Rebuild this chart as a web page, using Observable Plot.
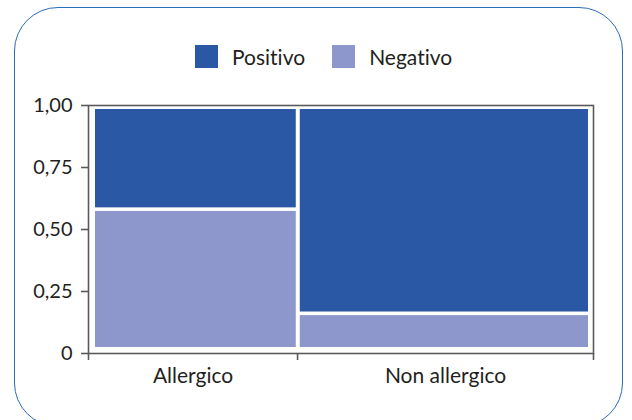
<!DOCTYPE html>
<html>
<head>
<meta charset="utf-8">
<script src="https://cdn.jsdelivr.net/npm/d3@7"></script>
<script src="https://cdn.jsdelivr.net/npm/@observablehq/plot@0.6"></script>
<style>
  html, body { margin: 0; padding: 0; background: #fff; }
  #wrap { position: relative; width: 632px; height: 420px; overflow: hidden; font-family: Lato, sans-serif; color: #231f20; font-variant-ligatures: none; font-feature-settings: "liga" 0, "clig" 0; }
  #wrap svg text { font-variant-ligatures: none; font-feature-settings: "liga" 0, "clig" 0; }
  #border { position: absolute; left: 14px; top: 7px; width: 609px; height: 420px; border: 1.5px solid #2a6cb8; border-radius: 44px; box-sizing: border-box; }
  #legend { position: absolute; left: 195px; top: 45px; display: flex; align-items: center; font-size: 21px; line-height: 23px; }
  .item { display: flex; align-items: center; }
  .sw { width: 23px; height: 23px; display: inline-block; margin-right: 14px; }
  #chart { position: absolute; left: 0; top: 0; }
</style>
</head>
<body>
<div id="wrap">
  <div id="border"></div>
  <div id="chart"></div>
  <div id="legend"></div>
</div>
<script>
const categories = ["Allergico", "Non allergico"];
const widths = [0.414, 0.586];
const positivo = [0.42, 0.84];
const negativo = [0.58, 0.16];
const series = ["Positivo", "Negativo"];
const colors = ["#2b58a5", "#8e97cb"];
const yTicks = [0, 0.25, 0.5, 0.75, 1];
const yTickLabels = ["0", "0,25", "0,50", "0,75", "1,00"];

// build mosaic cells
const cells = [];
const boundaries = [0];
const mids = [];
let acc = 0;
categories.forEach((c, i) => {
  const x1 = acc, x2 = acc + widths[i];
  mids.push((x1 + x2) / 2);
  cells.push({cat: i, series: "Negativo", x1, x2, y1: 0, y2: negativo[i]});
  cells.push({cat: i, series: "Positivo", x1, x2, y1: negativo[i], y2: negativo[i] + positivo[i]});
  acc = x2;
  boundaries.push(acc);
});

const insetX = [[7, 1.3], [2.7, 5]];
const insetY = {Negativo: [1.8, 6], Positivo: [4, 1.8]};

const rectMarks = cells.map(c => Plot.rect([c], {
  x1: "x1", x2: "x2", y1: "y1", y2: "y2", fill: "series",
  insetLeft: insetX[c.cat][0], insetRight: insetX[c.cat][1],
  insetTop: insetY[c.series][0], insetBottom: insetY[c.series][1]
}));

const chart = Plot.plot({
  width: 632,
  height: 420,
  marginLeft: 88,
  marginRight: 39,
  marginTop: 105,
  marginBottom: 67,
  style: {fontFamily: "Lato, sans-serif", fontSize: "21px", color: "#231f20", background: "transparent", overflow: "visible"},
  x: {domain: [0, 1], axis: null},
  y: {domain: [0, 1], axis: null},
  color: {domain: series, range: colors},
  marks: [
    ...rectMarks,
    Plot.frame({stroke: "#5a5a5a", strokeWidth: 1.6}),
    Plot.axisY({ticks: yTicks, tickFormat: d => yTickLabels[yTicks.indexOf(d)], tickSize: 7, tickPadding: 9, fontSize: 20, stroke: "#5a5a5a", strokeWidth: 1.6, label: null}),
    Plot.axisX({ticks: boundaries, tickFormat: () => "", tickSize: 7, stroke: "#5a5a5a", strokeWidth: 1.6, label: null}),
    Plot.axisX({ticks: mids, tickFormat: d => categories[mids.indexOf(d)], tickSize: 0, tickPadding: 15, fontSize: 21, label: null})
  ]
});
document.getElementById("chart").appendChild(chart);

const legend = document.getElementById("legend");
series.forEach((s, i) => {
  const item = document.createElement("div");
  item.className = "item";
  item.style.marginRight = i === 0 ? "27px" : "0";
  const sw = document.createElement("span");
  sw.className = "sw";
  sw.style.background = colors[i];
  const t = document.createElement("span");
  t.textContent = s;
  item.appendChild(sw);
  item.appendChild(t);
  legend.appendChild(item);
});
</script>
</body>
</html>
